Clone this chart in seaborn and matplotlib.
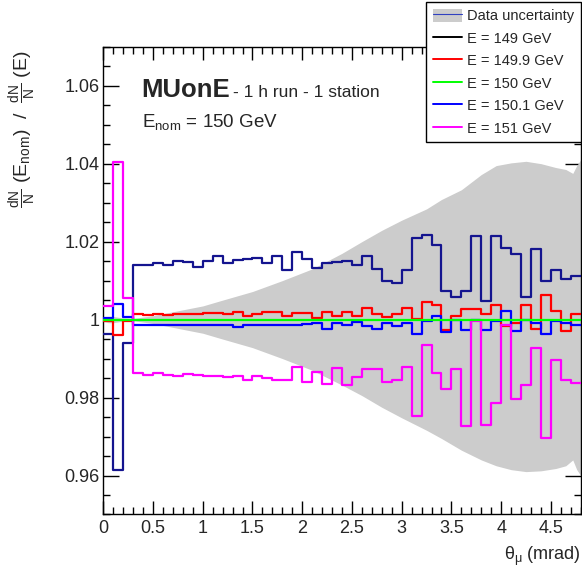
import numpy as np
import pandas as pd
import matplotlib
matplotlib.use('Agg')
import matplotlib.pyplot as plt
from matplotlib.lines import Line2D
from matplotlib.patches import Patch
from matplotlib.ticker import MultipleLocator, FuncFormatter
import seaborn as sns

# theta_mu bins: 48 bins of 0.1 mrad
edges = np.round(np.arange(49) * 0.1, 2)

energies = ['149', '149.9', '150', '150.1', '151']

ratio_149 = [0.9962, 0.9613, 0.9939, 1.0140, 1.0141, 1.0144, 1.0141, 1.0149, 1.0147, 1.0136,
             1.0151, 1.0164, 1.0145, 1.0153, 1.0156, 1.0158, 1.0145, 1.0164, 1.0128, 1.0173,
             1.0156, 1.0133, 1.0144, 1.0148, 1.0150, 1.0141, 1.0164, 1.0130, 1.0098, 1.0094,
             1.0126, 1.0209, 1.0216, 1.0192, 1.0073, 1.0057, 1.0073, 1.0214, 1.0047, 1.0215,
             1.0183, 1.0168, 1.0057, 1.0182, 1.0100, 1.0128, 1.0105, 1.0113]
ratio_1499 = [0.9996, 0.9961, 0.9996, 1.0014, 1.0013, 1.0015, 1.0013, 1.0015, 1.0014, 1.0014,
              1.0016, 1.0016, 1.0014, 1.0019, 1.0009, 1.0015, 1.0020, 1.0019, 1.0009, 1.0017,
              1.0017, 1.0004, 1.0020, 1.0008, 1.0020, 1.0009, 1.0029, 1.0015, 1.0007, 1.0015,
              1.0029, 1.0002, 1.0044, 1.0037, 0.9974, 1.0009, 1.0028, 1.0026, 1.0015, 1.0038,
              0.9983, 0.9991, 1.0038, 0.9977, 1.0062, 1.0023, 0.9970, 1.0015]
ratio_150 = [1.0] * 48
ratio_1501 = [1.0004, 1.0040, 1.0007, 0.9985, 0.9985, 0.9986, 0.9985, 0.9985, 0.9985, 0.9985,
              0.9985, 0.9986, 0.9985, 0.9981, 0.9985, 0.9986, 0.9985, 0.9986, 0.9985, 0.9985,
              0.9989, 0.9992, 0.9976, 0.9990, 0.9985, 0.9993, 0.9983, 0.9975, 0.9991, 0.9983,
              0.9991, 0.9963, 0.9997, 1.0010, 0.9968, 1.0000, 0.9974, 0.9998, 0.9973, 0.9996,
              1.0021, 0.9970, 1.0000, 0.9991, 0.9964, 0.9997, 0.9990, 0.9985]
ratio_151 = [1.0034, 1.0405, 1.0056, 0.9864, 0.9859, 0.9862, 0.9859, 0.9855, 0.9861, 0.9857,
             0.9856, 0.9854, 0.9853, 0.9855, 0.9845, 0.9854, 0.9849, 0.9844, 0.9845, 0.9878,
             0.9839, 0.9865, 0.9834, 0.9877, 0.9832, 0.9852, 0.9872, 0.9874, 0.9840, 0.9844,
             0.9879, 0.9752, 0.9936, 0.9863, 0.9821, 0.9872, 0.9727, 0.9997, 0.9729, 0.9785,
             0.9987, 0.9795, 0.9833, 0.9926, 0.9697, 0.9897, 0.9846, 0.9838]

# data uncertainty band around 1
band_theta = [0, 0.05, 0.1, 0.15, 0.2, 0.3, 0.5, 0.8, 1.0, 1.2, 1.5, 1.8, 2.1, 2.4, 2.6,
              2.8, 3.0, 3.25, 3.4, 3.6, 3.8, 3.95, 4.1, 4.25, 4.4, 4.55, 4.65, 4.72, 4.76, 4.8]
band_up = [1.0005, 1.0008, 1.0008, 1.0006, 1.0004, 1.0003, 1.0010, 1.0025, 1.0035, 1.0050,
           1.0072, 1.0100, 1.0130, 1.0170, 1.0200, 1.0229, 1.0255, 1.0284, 1.0308, 1.0333,
           1.0372, 1.0395, 1.0402, 1.0406, 1.0400, 1.0390, 1.0385, 1.0375, 1.0395, 1.0410]
band_lo = [0.9995, 0.9992, 0.9992, 0.9994, 0.9996, 0.9997, 0.9990, 0.9975, 0.9965, 0.9950,
           0.9928, 0.9900, 0.9870, 0.9832, 0.9805, 0.9775, 0.9748, 0.9716, 0.9695, 0.9665,
           0.9640, 0.9625, 0.9615, 0.9610, 0.9612, 0.9618, 0.9625, 0.9640, 0.9615, 0.9600]

colors = {'149': '#14148f', '149.9': '#ff0000', '150': '#00ff00',
          '150.1': '#0000ff', '151': '#ff00ff'}
legend_colors = {'149': '#000000', '149.9': '#ff0000', '150': '#00ff00',
                 '150.1': '#0000ff', '151': '#ff00ff'}

series = dict(zip(energies, [ratio_149, ratio_1499, ratio_150, ratio_1501, ratio_151]))
rows = []
for e, vals in series.items():
    ys = list(vals) + [vals[-1]]
    for x, y in zip(edges, ys):
        rows.append({'theta': x, 'ratio': y, 'energy': e})
df = pd.DataFrame(rows)

sns.set_style('ticks')
plt.rcParams['font.family'] = ['Liberation Sans', 'DejaVu Sans']
plt.rcParams['mathtext.fontset'] = 'custom'
plt.rcParams['mathtext.rm'] = 'Liberation Sans'
plt.rcParams['mathtext.it'] = 'Liberation Sans:italic'
plt.rcParams['mathtext.bf'] = 'Liberation Sans:bold'
plt.rcParams['mathtext.default'] = 'regular'

fig = plt.figure(figsize=(5.82, 5.73), dpi=100)
ax = fig.add_axes([0.1775, 0.1021, 0.8203, 0.8164])

ax.fill_between(band_theta, band_lo, band_up, color='#cccccc', lw=0, zorder=1)

draw_order = ['149', '149.9', '150.1', '151', '150']
sns.lineplot(data=df, x='theta', y='ratio', hue='energy', hue_order=draw_order,
             palette=colors, drawstyle='steps-post', lw=1.6, legend=False,
             estimator=None, sort=False, ax=ax, zorder=3)

ax.set_xlim(0, 4.8)
ax.set_ylim(0.95, 1.07)
ax.xaxis.set_major_locator(MultipleLocator(0.5))
ax.xaxis.set_minor_locator(MultipleLocator(0.1))
ax.yaxis.set_major_locator(MultipleLocator(0.02))
ax.yaxis.set_minor_locator(MultipleLocator(0.005))
fmt = FuncFormatter(lambda v, p: f'{v:g}')
ax.xaxis.set_major_formatter(fmt)
ax.yaxis.set_major_formatter(fmt)
ax.tick_params(which='both', direction='in', top=True, right=True, color='black',
               width=1, labelsize=13)
ax.tick_params(axis='x', which='major', length=9.5, pad=4)
ax.tick_params(axis='x', which='minor', length=4.8)
ax.tick_params(axis='y', which='major', length=11.5, pad=2.5)
ax.tick_params(axis='y', which='minor', length=5.2)
for sp in ax.spines.values():
    sp.set_visible(True)
    sp.set_color('black')
    sp.set_linewidth(1)
ax.grid(False)

ax.set_xlabel('θ$_{μ}$ (mrad)', fontsize=13, loc='right')
ax.xaxis.set_label_coords(1.0, -0.065)
ax.set_ylabel(r'$\frac{dN}{N}$ (E$_{nom}$)  /  $\frac{dN}{N}$ (E)', fontsize=14, loc='top')
ax.yaxis.set_label_coords(-0.135, 0.993)

ax.text(0.0804, 0.893, 'MUonE', transform=ax.transAxes, fontsize=18.5,
        fontweight='bold', va='baseline')
ax.text(0.271, 0.893, '- 1 h run - 1 station', transform=ax.transAxes,
        fontsize=12.5, va='baseline')
ax.text(0.0804, 0.829, 'E$_{nom}$ = 150 GeV', transform=ax.transAxes,
        fontsize=13.5, va='baseline')

handles = [(Patch(facecolor='#cccccc', edgecolor='none'),
            Line2D([], [], color='#3040c0', lw=0.8))]
labels = ['Data uncertainty']
for e in energies:
    handles.append(Line2D([], [], color=legend_colors[e], lw=1.4))
    labels.append(f'E = {e} GeV')
leg = fig.legend(handles, labels, loc='upper right', bbox_to_anchor=(0.998, 0.9965),
                 bbox_transform=fig.transFigure, frameon=True, fancybox=False,
                 edgecolor='black', framealpha=1, fontsize=10.5, handlelength=2.0,
                 handleheight=1.0, handletextpad=0.35, labelspacing=0.55,
                 borderpad=0.45, borderaxespad=0)
leg.get_frame().set_linewidth(1.0)

fig.savefig('out.png', dpi=100)
